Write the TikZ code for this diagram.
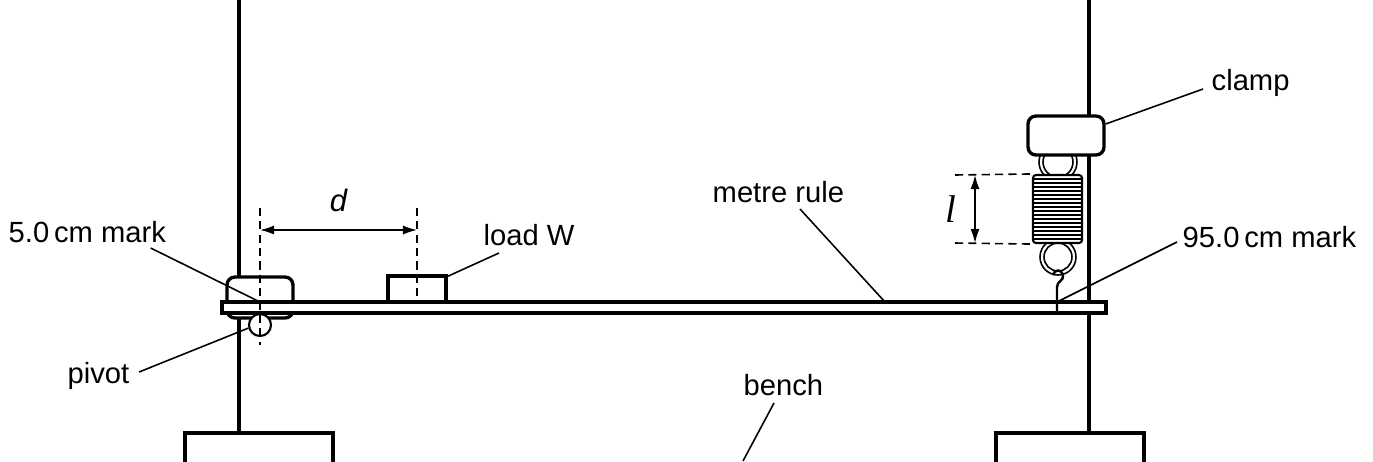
\documentclass[tikz,border=0pt]{standalone}
\usepackage{fontspec}
\setmainfont{Liberation Sans}
\newfontfamily\serifl{Liberation Serif}
\usetikzlibrary{arrows.meta}
\begin{document}
\begin{tikzpicture}[font=\fontsize{8.3}{10}\selectfont,
    objet/.style={draw,fill=white,line width=0.95pt,inner sep=0pt},
    etiq/.style={inner sep=0pt,anchor=base west},
    fil/.style={line width=0.45pt},
    tirets/.style={line width=0.45pt,dash pattern=on 2.3pt off 1.5pt},
    cote/.style={line width=0.45pt,{Latex[length=4pt,width=2.6pt]}-{Latex[length=4pt,width=2.6pt]}}]
    \useasboundingbox (0,0) rectangle (13.73,4.61);
    % statifs
    \draw [line width=1.2pt] (2.39,4.61)--(2.39,0.28) ;
    \draw [line width=1.2pt] (10.89,4.61)--(10.89,0.28) ;
    \draw [line width=0.9pt] (1.85,-0.05) |- (3.33,0.28) -- (3.33,-0.05) ;
    \draw [line width=0.9pt] (9.96,-0.05) |- (11.44,0.28) -- (11.44,-0.05) ;
    \node[objet,rounded corners=0.08cm,minimum width=0.66cm,minimum height=0.41cm] (lclamp) at (2.60,1.635) {};
    % ressort
    \draw [line width=0.45pt,fill=white] (10.58,2.99) circle (0.19) ;
    \draw [line width=0.45pt] (10.58,2.99) circle (0.15) ;
    \draw [line width=0.45pt,fill=white] (10.58,2.04) circle (0.18) ;
    \draw [line width=0.45pt] (10.58,2.04) circle (0.14) ;
    \node[objet,rounded corners=0.08cm,minimum width=0.76cm,minimum height=0.39cm] (rclamp) at (10.66,3.255) {};
    \node[objet,line width=0.6pt,rounded corners=0.03cm,minimum width=0.49cm,minimum height=0.68cm] (spring) at (10.575,2.52) {};
    \foreach \i in {1,...,16}
        \draw [line width=0.3pt] (10.34,{2.18+\i*0.04})--(10.81,{2.18+\i*0.04}) ;
    % regle
    \node[objet,minimum width=8.84cm,minimum height=0.11cm] (rule) at (6.64,1.535) {};
    \draw [line width=0.7pt] (10.57,1.48)--(10.57,1.74) .. controls (10.57,1.80) and (10.64,1.80) .. (10.63,1.86) .. controls (10.62,1.92) and (10.54,1.92) .. (10.53,1.86) ;
    \node[objet,line width=0.6pt,circle,minimum size=0.22cm] (pivot) at (2.60,1.36) {};
    \node[objet,minimum width=0.58cm,minimum height=0.26cm] (load) at (4.17,1.72) {};
    \coordinate (m5) at (2.60,1.59);
    \coordinate (m95) at (10.57,1.59);
    \coordinate (mrule) at (8.85,1.59);
    \coordinate (bench) at (7.43,0);
    % cotes
    \draw [tirets] (2.60,2.53)--(2.60,1.16) ;
    \draw [tirets] (4.17,2.53)--(load.south) ;
    \draw [cote] (2.60,2.31)--(4.17,2.31) node[midway,above=0.06cm] {\itshape\fontsize{8.8}{10}\selectfont d} ;
    \draw [tirets] (9.55,2.86)--(spring.north west) ;
    \draw [tirets] (9.55,2.18)--(spring.south west) ;
    \draw [cote] (9.75,2.86)--(9.75,2.18) node[midway,left=0.06cm] {\serifl\itshape\fontsize{11}{12}\selectfont l} ;
    % legendes
    \node[etiq] (lfive) at (0.08,2.19) {5.0\,cm mark};
    \node[etiq] (lpivot) at (0.67,0.78) {pivot};
    \node[etiq] (lload) at (4.83,2.16) {load W};
    \node[etiq] (lrule) at (7.12,2.59) {metre rule};
    \node[etiq] (lclampt) at (12.11,3.71) {clamp};
    \node[etiq] (lninety) at (11.82,2.14) {95.0\,cm mark};
    \node[etiq] (lbench) at (7.43,0.66) {bench};
    \draw [fil] ([xshift=-0.16cm,yshift=-0.06cm]lfive.base east)--(m5) ;
    \draw [fil] ([xshift=0.09cm,yshift=0.11cm]lpivot.base east)--(pivot.195) ;
    \draw [fil] ([xshift=0.16cm,yshift=-0.08cm]lload.base west)--([yshift=-0.02cm]load.north east) ;
    \draw [fil] ([xshift=0.88cm,yshift=-0.07cm]lrule.base west)--(mrule) ;
    \draw [fil] ([xshift=-0.08cm,yshift=0.01cm]lclampt.base west)--([yshift=0.115cm]rclamp.east) ;
    \draw [fil] ([xshift=-0.05cm,yshift=0.05cm]lninety.base west)--(m95) ;
    \draw [fil] ([xshift=0.31cm,yshift=-0.08cm]lbench.base west)--(bench) ;
\end{tikzpicture}
\end{document}
